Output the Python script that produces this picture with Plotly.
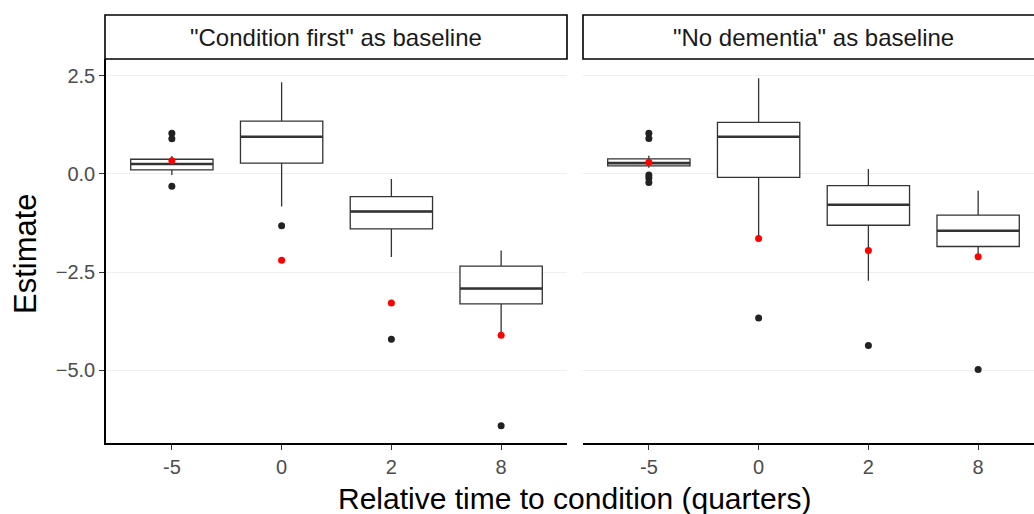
import plotly.graph_objects as go

# ---------------- data ----------------
categories = ["-5", "0", "2", "8"]
panel_titles = ['"Condition first" as baseline', '"No dementia" as baseline']

# panel 1: "Condition first" as baseline
p1_lower = [-0.03, -0.83, -2.12, -4.05]
p1_q1 = [0.10, 0.27, -1.40, -3.31]
p1_median = [0.25, 0.94, -0.96, -2.92]
p1_q3 = [0.37, 1.34, -0.58, -2.35]
p1_upper = [0.45, 2.33, -0.13, -1.95]
p1_out_cat = ["-5", "-5", "-5", "0", "2", "8"]
p1_out_val = [1.03, 0.89, -0.32, -1.32, -4.21, -6.41]
p1_red = [0.33, -2.20, -3.29, -4.11]

# panel 2: "No dementia" as baseline
p2_lower = [0.15, -1.63, -2.72, -2.05]
p2_q1 = [0.20, -0.09, -1.31, -1.85]
p2_median = [0.27, 0.94, -0.79, -1.45]
p2_q3 = [0.38, 1.31, -0.30, -1.05]
p2_upper = [0.46, 2.43, 0.12, -0.43]
p2_out_cat = ["-5", "-5", "-5", "-5", "-5", "0", "2", "8"]
p2_out_val = [1.03, 0.90, -0.03, -0.11, -0.22, -3.67, -4.37, -4.98]
p2_red = [0.29, -1.65, -1.95, -2.11]

y_ticks = [-5.0, -2.5, 0.0, 2.5]

# ---------------- styling ----------------
W, H = 1034, 514
FONT = "Liberation Sans, Arial, sans-serif"
BOX_W = 0.75
DARK = "#333333"

pos = {c: i for i, c in enumerate(categories)}
xpos = [pos[c] for c in categories]

fig = go.Figure()

panels = [
    (p1_lower, p1_q1, p1_median, p1_q3, p1_upper, p1_out_cat, p1_out_val, p1_red, "x", "y"),
    (p2_lower, p2_q1, p2_median, p2_q3, p2_upper, p2_out_cat, p2_out_val, p2_red, "x2", "y2"),
]

for lo, q1, med, q3, up, oc, ov, red, xa, ya in panels:
    fig.add_trace(go.Box(
        x=xpos, q1=q1, median=med, q3=q3, lowerfence=lo, upperfence=up,
        width=BOX_W, whiskerwidth=0, boxpoints=False,
        fillcolor="white", line=dict(color=DARK, width=1.3),
        xaxis=xa, yaxis=ya, showlegend=False, hoverinfo="skip",
    ))
    # thicker median lines (ggplot fatten)
    mx, my = [], []
    for i, m in zip(xpos, med):
        mx += [i - BOX_W / 2, i + BOX_W / 2, None]
        my += [m, m, None]
    fig.add_trace(go.Scatter(
        x=mx, y=my, mode="lines", line=dict(color=DARK, width=2.6),
        xaxis=xa, yaxis=ya, showlegend=False, hoverinfo="skip",
    ))
    fig.add_trace(go.Scatter(
        x=[pos[c] for c in oc], y=ov, mode="markers",
        marker=dict(color="#222222", size=7),
        xaxis=xa, yaxis=ya, showlegend=False,
    ))
    fig.add_trace(go.Scatter(
        x=xpos, y=red, mode="markers",
        marker=dict(color="#ff0000", size=7),
        xaxis=xa, yaxis=ya, showlegend=False,
    ))

# panel geometry (pixels)
L1, R1 = 106, 567
L2, R2 = 583, 1034
TOP, BOT = 59, 443
ppu = (R1 - L1) / 4.2  # pixels per category unit

def px(v):
    return v / W

def py(v):
    return (H - v) / H

yr = [-6.85, 2.92]
common_x = dict(
    tickmode="array", tickvals=xpos, ticktext=categories,
    showgrid=False, zeroline=False, showline=True, linecolor="black", linewidth=1.6,
    ticks="outside", ticklen=5, tickcolor=DARK, tickwidth=1.1,
    tickfont=dict(family=FONT, size=20, color="#4d4d4d"),
)
common_y = dict(
    range=yr, tickmode="array", tickvals=y_ticks, tickformat=".1f",
    showgrid=True, gridcolor="#efefef", gridwidth=1, zeroline=False,
    tickfont=dict(family=FONT, size=20, color="#4d4d4d"),
)

fig.update_layout(
    width=W, height=H, margin=dict(l=0, r=0, t=0, b=0),
    paper_bgcolor="white", plot_bgcolor="white", boxmode="overlay",
    xaxis=dict(domain=[px(L1), px(R1)], range=[-0.6, 3.6], anchor="y", **common_x),
    xaxis2=dict(domain=[px(L2), px(R2)], range=[-0.6, -0.6 + (R2 - L2) / ppu], anchor="y2", **common_x),
    yaxis=dict(domain=[py(BOT), py(TOP)], anchor="x", showline=True, linecolor="black", linewidth=1.6,
               ticks="outside", ticklen=5, tickcolor=DARK, tickwidth=1.1, **common_y),
    yaxis2=dict(domain=[py(BOT), py(TOP)], anchor="x2", matches="y", showline=False,
                showticklabels=False, ticks="", **common_y),
)

# facet strips (right one runs past the page edge, as in the reference)
STRIP_T, STRIP_B = 15, 59
strip_spans = [(L1 - 1, R1), (L2, R2 + 10)]
for (l, r), title in zip(strip_spans, panel_titles):
    fig.add_shape(type="rect", xref="paper", yref="paper",
                  x0=px(l), x1=px(r), y0=py(STRIP_B), y1=py(STRIP_T),
                  line=dict(color="black", width=1.6), fillcolor="white", layer="above")
    fig.add_annotation(x=px((l + r) / 2), y=py((STRIP_T + STRIP_B) / 2 + 1),
                       xref="paper", yref="paper", text=title, showarrow=False,
                       font=dict(family=FONT, size=24, color="#1a1a1a"),
                       xanchor="center", yanchor="middle")

# axis titles
fig.add_annotation(x=px(574.5), y=py(498), xref="paper", yref="paper",
                   text="Relative time to condition (quarters)", showarrow=False,
                   font=dict(family=FONT, size=30, color="black"),
                   xanchor="center", yanchor="middle")
fig.add_annotation(x=px(25), y=py(254), xref="paper", yref="paper",
                   text="Estimate", showarrow=False, textangle=-90,
                   font=dict(family=FONT, size=31, color="black"),
                   xanchor="center", yanchor="middle")

fig.write_html("out.html")
